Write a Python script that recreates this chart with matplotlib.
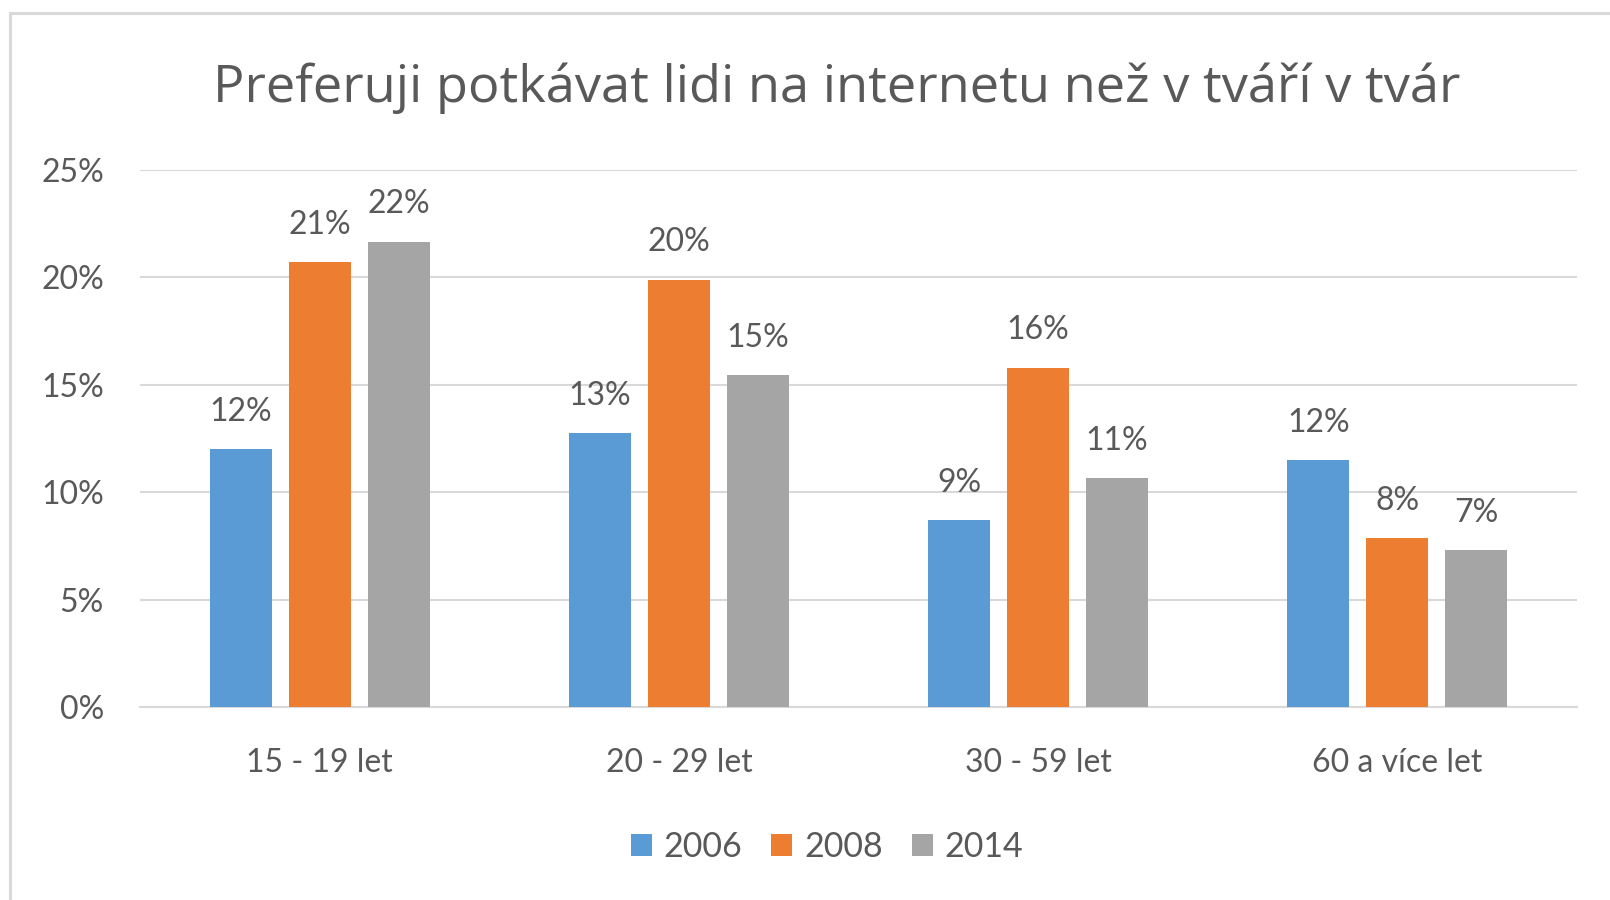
import matplotlib
matplotlib.use("Agg")
import matplotlib.pyplot as plt
import numpy as np
from matplotlib.patches import Rectangle, Patch

plt.rcParams['font.family'] = ['Lato', 'DejaVu Sans']

categories = ["15 - 19 let", "20 - 29 let", "30 - 59 let", "60 a více let"]
series_names = ["2006", "2008", "2014"]
values_2006 = [12.0, 12.75, 8.7, 11.5]
values_2008 = [20.7, 19.9, 15.8, 7.85]
values_2014 = [21.65, 15.45, 10.65, 7.3]
yticks = [0, 5, 10, 15, 20, 25]
title = "Preferuji potkávat lidi na internetu než v tváří v tvár"

colors = ["#5B9BD5", "#ED7D31", "#A5A5A5"]
text_color = "#595959"
grid_color = "#D9D9D9"

W, H = 1610, 900
fig = plt.figure(figsize=(W / 100, H / 100), dpi=100)
fig.patch.set_facecolor("white")

# chart frame (cropped: only top & left visible)
fig.patches.append(Rectangle((10 / W, -0.5), 2.0, 1 - 13 / H + 0.5,
                             transform=fig.transFigure, fill=False,
                             edgecolor=grid_color, linewidth=2.2, zorder=0))

ax = fig.add_axes([140 / W, 1 - 707 / H, (1577 - 140) / W, (707 - 170) / H])

x = np.arange(len(categories))
bw = 0.173
step = 0.22
all_series = [values_2006, values_2008, values_2014]
for i, (vals, c, name) in enumerate(zip(all_series, colors, series_names)):
    pos = x + (i - 1) * step
    ax.bar(pos, vals, width=bw, color=c, label=name, zorder=3)
    for xp, v in zip(pos, vals):
        ax.annotate(f"{round(v):d}%", xy=(xp, v), xytext=(0, 20.5),
                    textcoords="offset points", ha="center", va="baseline",
                    fontsize=23, color=text_color, annotation_clip=False)

ax.set_xlim(-0.5, len(categories) - 0.5)
ax.set_ylim(0, 25)
ax.set_yticks(yticks)
ax.set_yticklabels([f"{t}%" for t in yticks])
ax.set_xticks(x)
ax.set_xticklabels(categories)
ax.yaxis.grid(True, color=grid_color, linewidth=1.5, zorder=0)
ax.set_axisbelow(True)
for s in ["top", "right", "left"]:
    ax.spines[s].set_visible(False)
ax.spines["bottom"].set_color(grid_color)
ax.spines["bottom"].set_linewidth(1.5)
ax.tick_params(axis="both", length=0, labelsize=23, labelcolor=text_color)
ax.tick_params(axis="y", pad=26)
ax.tick_params(axis="x", pad=29.5)

fig.text(837 / W, 1 - 101.7 / H, title, ha="center", va="baseline",
         fontsize=37.7, color=text_color, family=["Open Sans", "DejaVu Sans"])

handles = [Patch(facecolor=c, edgecolor="none") for c in colors]
fig.legend(handles, series_names, loc="center", bbox_to_anchor=(827 / W, 1 - 847 / H),
           ncol=3, frameon=False, fontsize=24.5, labelcolor=text_color,
           handlelength=0.62, handleheight=0.62, handletextpad=0.35,
           columnspacing=0.85)

fig.savefig("out.png", dpi=100, facecolor="white")
